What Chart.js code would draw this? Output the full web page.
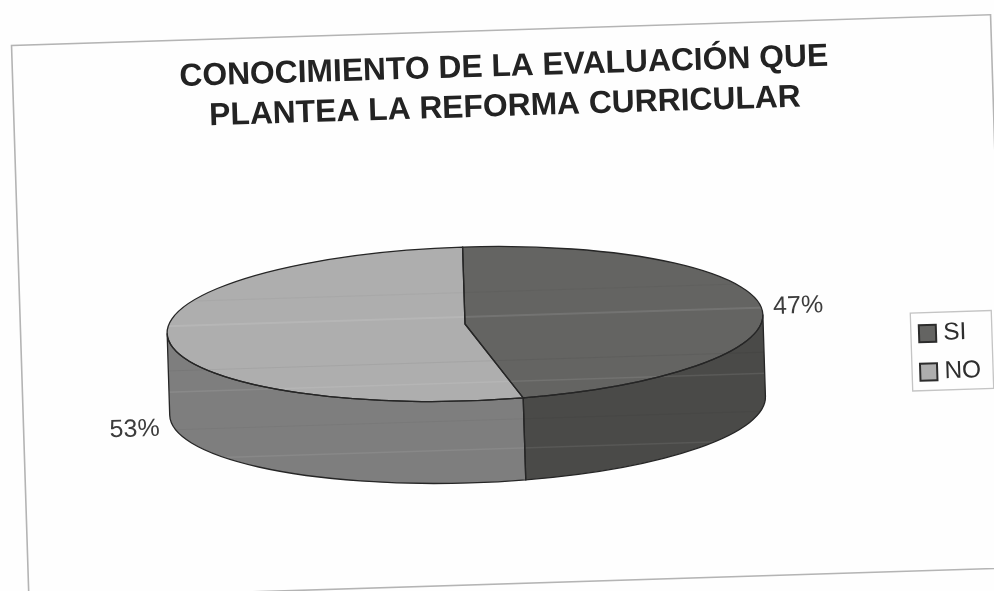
<!DOCTYPE html>
<html>
<head>
<meta charset="utf-8">
<script src="https://cdn.jsdelivr.net/npm/chart.js@4"></script>
<style>
html,body{margin:0;padding:0;background:#fefefe;overflow:hidden}
canvas{display:block}
</style>
</head>
<body>
<canvas id="c" width="994" height="591"></canvas>
<script>
const categories = ['SI', 'NO'];
const values = [47, 53];
const topColors = ['#646462', '#aeaeae'];
const wallColors = ['#4a4a48', '#7e7e7e'];
const titleLines = ['CONOCIMIENTO DE LA EVALUACIÓN QUE', 'PLANTEA LA REFORMA CURRICULAR'];

const CX = 465, CY = 324, R = 298, B = 77, DEPTH = 82;
const TILT = -1.8 * Math.PI / 180;
const FONT = '"Liberation Sans", Arial, sans-serif';

function ellipsePath(ctx, s, e, dy, ccw) {
  ctx.ellipse(CX, CY + dy, R, B, 0, s, e, !!ccw);
}

function drawScanStreaks(ctx) {
  ctx.save();
  ctx.beginPath();
  ellipsePath(ctx, Math.PI, 2 * Math.PI, 0);
  ellipsePath(ctx, 0, Math.PI, DEPTH);
  ctx.closePath();
  ctx.clip();
  [[316, 2, 'rgba(255,255,255,0.10)'], [382, 1.5, 'rgba(255,255,255,0.09)'],
   [449, 1.5, 'rgba(255,255,255,0.08)'], [361, 1.2, 'rgba(0,0,0,0.05)'],
   [292, 1.2, 'rgba(0,0,0,0.03)'], [420, 1.2, 'rgba(0,0,0,0.04)']].forEach(s => {
    ctx.fillStyle = s[2];
    ctx.fillRect(CX - R - 5, s[0], 2 * R + 10, s[1]);
  });
  ctx.restore();
}

const pie3d = {
  id: 'pie3d',
  afterLayout(chart) {
    chart.chartArea = {left: CX - 100, right: CX + 100, top: CY - 100, bottom: CY + 100, width: 200, height: 200};
    const t = chart.titleBlock;
    const h = t.bottom - t.top;
    t.left += 14.8; t.right += 14.8;
    t.top = 48.4; t.bottom = t.top + h;
    const l = chart.legend;
    l.left = 909.5; l.right = 992; l.width = 82.5;
    l.top = 321.75; l.bottom = 560; l.height = 238.25;
    l.adjustHitBoxes && l.adjustHitBoxes();
  },
  beforeDraw(chart) {
    const ctx = chart.ctx;
    ctx.save();
    ctx.translate(CX, CY);
    ctx.rotate(TILT);
    ctx.translate(-CX, -CY);
    ctx.strokeStyle = '#b4b4b4';
    ctx.lineWidth = 1.6;
    ctx.strokeRect(20.5, 31.4, 979.5, 553.6);
  },
  beforeDatasetsDraw(chart) {
    const ctx = chart.ctx;
    chart.getDatasetMeta(0).data.forEach((arc, i) => {
      const s = Math.max(arc.startAngle, 0);
      const e = Math.min(arc.endAngle, Math.PI);
      if (e <= s) return;
      ctx.beginPath();
      ellipsePath(ctx, s, e, 0);
      ellipsePath(ctx, e, s, DEPTH, true);
      ctx.closePath();
      ctx.fillStyle = wallColors[i];
      ctx.fill();
    });
    ctx.save();
    ctx.translate(CX, CY);
    ctx.scale(1, B / R);
    ctx.translate(-CX, -CY);
  },
  afterDatasetsDraw(chart) {
    const ctx = chart.ctx;
    ctx.restore();
    drawScanStreaks(ctx);
    const total = values.reduce((a, b) => a + b, 0);
    chart.getDatasetMeta(0).data.forEach((arc, i) => {
      ctx.beginPath();
      ctx.moveTo(CX, CY);
      ellipsePath(ctx, arc.startAngle, arc.endAngle, 0);
      ctx.closePath();
      ctx.strokeStyle = '#262626';
      ctx.lineWidth = 1.3;
      ctx.stroke();
      const s = Math.max(arc.startAngle, 0), e = Math.min(arc.endAngle, Math.PI);
      if (e > s) {
        ctx.beginPath();
        ellipsePath(ctx, s, e, 0);
        ellipsePath(ctx, e, s, DEPTH, true);
        ctx.closePath();
        ctx.stroke();
      }
      const mid = (arc.startAngle + arc.endAngle) / 2;
      const c = Math.cos(mid), sn = Math.sin(mid);
      const x = CX + c * (R + 37);
      const y = CY + sn * B + (sn > 0 ? DEPTH + 6 : 0);
      ctx.font = '25px ' + FONT;
      ctx.fillStyle = '#3c3c3c';
      ctx.textAlign = 'center';
      ctx.textBaseline = 'middle';
      ctx.fillText(Math.round(values[i] / total * 100) + '%', x, y);
    });
  },
  afterDraw(chart) {
    const ctx = chart.ctx;
    ctx.strokeStyle = '#c4c4c4';
    ctx.lineWidth = 1.3;
    ctx.strokeRect(910.4, 327, 81, 78);
    ctx.restore();
  }
};

new Chart(document.getElementById('c'), {
  type: 'pie',
  plugins: [pie3d],
  data: {
    labels: categories,
    datasets: [{
      data: values,
      backgroundColor: topColors,
      borderWidth: 0,
      radius: R,
      clip: false
    }]
  },
  options: {
    responsive: false,
    animation: false,
    events: [],
    layout: {padding: 0},
    plugins: {
      tooltip: {enabled: false},
      title: {
        display: true,
        text: titleLines,
        color: '#232323',
        padding: 0,
        font: {family: FONT, size: 31.8, weight: 'bold', lineHeight: 1.26}
      },
      legend: {
        display: true,
        position: 'right',
        align: 'start',
        labels: {
          usePointStyle: true,
          boxWidth: 7,
          boxHeight: 17,
          padding: 14,
          color: '#2e2e2e',
          font: {family: FONT, size: 24.5},
          generateLabels(chart) {
            const items = Chart.overrides.doughnut.plugins.legend.labels.generateLabels(chart);
            items.forEach(it => { it.lineWidth = 2; it.strokeStyle = '#2c2c2c'; it.pointStyle = 'rect'; });
            return items;
          }
        }
      }
    }
  }
});
</script>
</body>
</html>
